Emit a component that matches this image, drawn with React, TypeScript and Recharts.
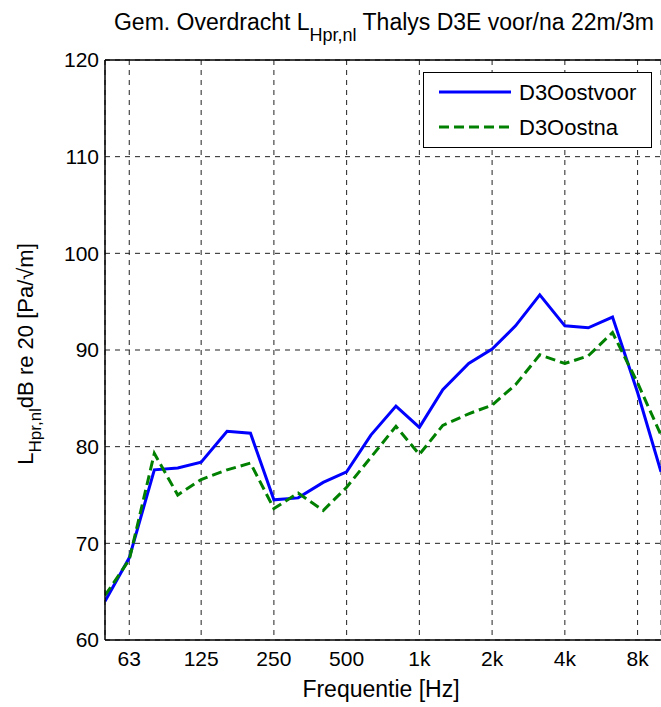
import React from 'react';
import {
  LineChart,
  Line,
  XAxis,
  YAxis,
  CartesianGrid,
  Legend,
  ReferenceLine
} from 'recharts';

// third-octave band centres [Hz]
const frequencies = [
  50, 63, 80, 100, 125, 160, 200, 250, 315, 400, 500, 630,
  800, 1000, 1250, 1600, 2000, 2500, 3150, 4000, 5000, 6300, 8000, 10000
];

const d3OostVoor = [
  64.0, 68.5, 77.6, 77.8, 78.4, 81.6, 81.4, 74.5, 74.7, 76.3, 77.4, 81.2,
  84.2, 82.0, 85.9, 88.6, 90.1, 92.5, 95.7, 92.5, 92.3, 93.4, 85.6, 77.4
];

const d3OostNa = [
  64.6, 68.3, 79.3, 75.0, 76.6, 77.6, 78.3, 73.6, 75.2, 73.4, 75.8, 78.9,
  82.1, 79.2, 82.2, 83.4, 84.3, 86.4, 89.5, 88.6, 89.4, 91.8, 86.6, 81.2
];

const xTicks = [63, 125, 250, 500, 1000, 2000, 4000, 8000];
const xTickLabels = ['63', '125', '250', '500', '1k', '2k', '4k', '8k'];
const yTicks = [60, 70, 80, 90, 100, 110, 120];

const seriesNames = ['D3Oostvoor', 'D3Oostna'];

const data = frequencies.map((f, i) => ({
  freq: f,
  voor: d3OostVoor[i],
  na: d3OostNa[i]
}));

const FONT = '"Liberation Sans", Arial, Helvetica, sans-serif';

const TitleText = () => (
  <text x={384} y={30} textAnchor="middle" fontFamily={FONT} fontSize={23} fill="#000">
    Gem. Overdracht L
    <tspan fontSize={18} dy={11}>Hpr,nl</tspan>
    <tspan dy={-11}> Thalys D3E voor/na 22m/3m</tspan>
  </text>
);

const YLabelText = () => (
  <text
    transform="translate(33, 354) rotate(-90)"
    textAnchor="middle"
    fontFamily={FONT}
    fontSize={22}
    fill="#000"
  >
    L
    <tspan fontSize={17} dy={8}>Hpr,nl</tspan>
    <tspan dy={-8}>dB re 20 [Pa/√m]</tspan>
  </text>
);

const XLabelText = () => (
  <text x={381} y={697} textAnchor="middle" fontFamily={FONT} fontSize={23} fill="#000">
    Frequentie [Hz]
  </text>
);

const renderLegend = () => (
  <div
    style={{
      width: 229,
      height: 76,
      border: '1.5px solid #000',
      background: '#fff',
      boxSizing: 'border-box',
      fontFamily: FONT,
      color: '#000'
    }}
  >
    <svg width={226} height={73}>
      <line x1={15} x2={87} y1={19} y2={19} stroke="#0000ff" strokeWidth={3} />
      <text x={95} y={27} fontFamily={FONT} fontSize={22}>{seriesNames[0]}</text>
      <line x1={15} x2={87} y1={54} y2={54} stroke="#008000" strokeWidth={3} strokeDasharray="10 5" />
      <text x={95} y={62} fontFamily={FONT} fontSize={22}>{seriesNames[1]}</text>
    </svg>
  </div>
);

export default function App() {
  return (
    <div
      style={{
        position: 'absolute',
        left: 0,
        top: 0,
        width: 661,
        height: 707,
        overflow: 'hidden',
        background: '#fff'
      }}
    >
      <LineChart
        width={690}
        height={707}
        data={data}
        margin={{ top: 60, right: 29, bottom: 37, left: 0 }}
      >
        <CartesianGrid stroke="#222" strokeDasharray="5 5" strokeWidth={1} />
        <XAxis
          dataKey="freq"
          type="number"
          scale="log"
          domain={[50, 10000]}
          ticks={xTicks}
          tickFormatter={(v: number) => xTickLabels[xTicks.indexOf(v)] ?? String(v)}
          allowDataOverflow
          height={30}
          tickLine={false}
          tickSize={0}
          tickMargin={11}
          axisLine={{ stroke: '#000', strokeWidth: 1.5 }}
          tick={{ fill: '#000', fontSize: 21, fontFamily: FONT }}
          label={{ content: XLabelText }}
        />
        <YAxis
          type="number"
          domain={[60, 120]}
          ticks={yTicks}
          width={105}
          allowDataOverflow
          tickLine={false}
          tickSize={0}
          tickMargin={6}
          axisLine={{ stroke: '#000', strokeWidth: 1.5 }}
          tick={{ fill: '#000', fontSize: 21, fontFamily: FONT }}
          label={{ content: YLabelText }}
        />
        <ReferenceLine
          y={120}
          stroke="#000"
          strokeWidth={1.5}
          label={{ content: TitleText }}
        />
        <Legend
          layout="horizontal"
          verticalAlign="middle"
          align="center"
          wrapperStyle={{ left: 423, top: 72, width: 230, height: 77 }}
          content={renderLegend}
        />
        <Line
          type="linear"
          dataKey="voor"
          name={seriesNames[0]}
          stroke="#0000ff"
          strokeWidth={3}
          dot={false}
          isAnimationActive={false}
        />
        <Line
          type="linear"
          dataKey="na"
          name={seriesNames[1]}
          stroke="#008000"
          strokeWidth={3}
          strokeDasharray="10 5"
          dot={false}
          isAnimationActive={false}
        />
      </LineChart>
    </div>
  );
}
